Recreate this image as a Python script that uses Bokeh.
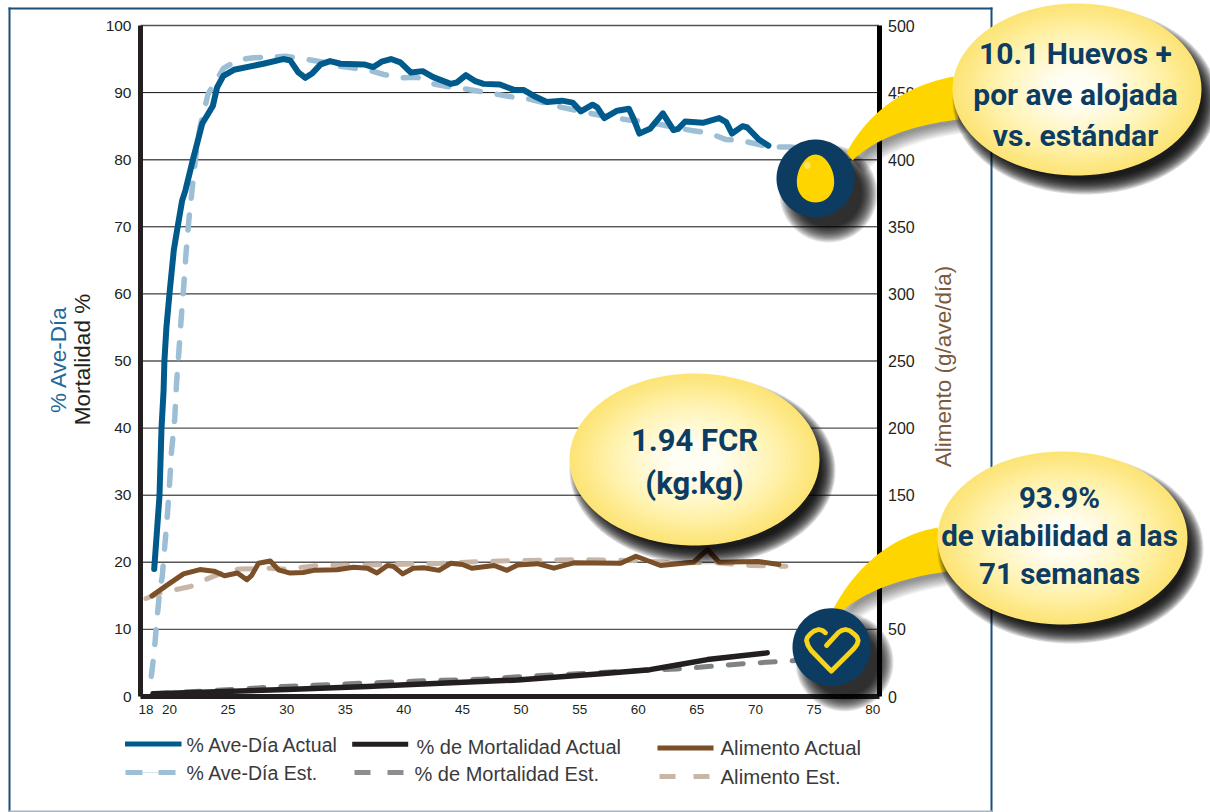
import math
from bokeh.plotting import figure
from bokeh.models import Range1d, LinearAxis, FixedTicker, PolyAnnotation, Label
from bokeh.embed import file_html
from bokeh.resources import INLINE

# ---------- data ----------
egg_act_w = [18.7,19.15,19.32,19.5,19.57,19.74,20,20.37,20.7,21.08,21.36,22,22.8,23.7,24.07,24.6,25.5,28,29.7,30.3,31,31.6,32.2,32.9,33.7,34.6,36.6,37.4,38.1,38.9,39.7,40.6,41.6,42.5,44,44.5,45.3,46.1,46.8,48.2,49.4,50.2,51.1,52.2,53.5,54.4,55.1,56.1,56.5,57.1,58.2,59.2,59.6,60.1,61,62.1,63,63.4,64,65.5,66.9,67.5,68,68.9,69.3,70.3,71.1]
egg_act_v = [19,29.9,39.9,45.6,50,55,60,66.5,70,73.9,75.4,80,85.4,88,90.8,92.5,93.4,94.3,95,94.8,93,92.2,92.9,94.2,94.7,94.3,94.2,93.8,94.6,95,94.5,93,93.2,92.3,91.3,91.5,92.6,91.7,91.3,91.2,90.4,90.4,89.5,88.6,88.8,88.5,87.2,88.2,87.8,86.2,87.3,87.6,86.1,83.9,84.6,86.9,84.4,84.6,85.7,85.5,86.2,85.6,83.9,85,84.8,83,82.1]
egg_est_w = [18.45,18.7,18.95,19.2,19.38,19.57,19.8,20,20.17,20.45,20.6,20.8,21,21.22,21.42,21.65,22.2,22.6,23.3,24.6,25.9,27.2,30,31.6,32.9,34.3,37.1,38.3,39.7,41.1,42.5,44,45.4,48.1,49.4,50.8,53.5,56.5,59.2,60.5,62,64.7,66,67.5,68.7,70.2,71.4,73,75]
egg_est_v = [3,6.6,11.8,16.3,17.8,21.8,26.5,31.4,36.4,41.4,46.6,51.3,56.3,61.2,66.2,70.9,79.9,84.8,89.8,93.6,94.9,95.2,95.4,95,94.6,94,93.3,92.7,92.2,92.3,91.3,90.8,90.5,89.7,89.3,89,87.8,86.7,85.9,85.7,85.2,84.3,84,83,82.9,82.3,81.9,81.9,81.5]
feed_act_w = [18.5,19.8,21.2,22.6,23.8,24.7,25.8,26.6,27,27.6,28.6,29.3,30.3,31.4,32.3,34.3,35.7,36.9,37.7,38.6,39.1,39.9,40.8,41.7,43,44,45,45.8,47.7,48.8,49.7,51.4,52.8,54.5,58.5,59.8,61.9,64.7,65.9,66.9,70.2,72]
feed_act_v = [75,83,91.4,94.6,93.4,90,92,87,90,99.3,101,94.4,92,92.4,94,94.4,96.3,95.6,92,97.6,97,91.4,95.6,95.9,94,99.3,98.4,95.6,97.6,94,98,99,95.6,99.6,99.3,104.5,97.6,100,109.5,100,100.6,98.4]
feed_est_w = [18,19.2,20.2,21.8,22.9,24.6,26,28.3,30,32.6,36.9,42.5,46.8,49.7,55.3,59.6,62.5,66.7,69.6,72.6]
feed_est_v = [73,77,79,82,86.4,92.6,95,95.6,95,97.6,98,99,100.6,101.3,102,101.3,100,99.6,97.6,97]
mort_act_w = [18.6,30,36.9,39.7,48,49.7,56.8,61,63.3,65.9,71]
mort_act_v = [0.4,1.04,1.5,1.7,2.35,2.45,3.4,4,4.7,5.5,6.5]
mort_est_w = [18.6,23.8,29.7,35.4,41.1,46.8,49.4,54.8,60.5,63.3,66.2,69,71.9,75]
mort_est_v = [0.4,0.9,1.5,1.9,2.3,2.6,2.9,3.4,3.9,4.1,4.5,4.9,5.2,5.5]
x_ticks = [18,20,25,30,35,40,45,50,55,60,65,70,75,80]
left_ticks = list(range(0,101,10))
right_ticks = list(range(0,501,50))
grid_dark = [30,60,70,90]

NAVY = "#0d3c63"; YEL = "#ffd500"
X0, X1 = 17.53, 80.54
PL, PR, PT, PB = 140, 878.5, 25, 696
W, H = 1210, 812
KX = (X1-X0)/(PR-PL); KY = 100/(PB-PT)
XMIN, XMAX = X0-PL*KX, X0+(W-PL)*KX
YMIN, YMAX = -(H-PB)*KY, 100+PT*KY

p = figure(width=W, height=H, output_backend="svg", toolbar_location=None,
           x_range=Range1d(XMIN, XMAX), y_range=Range1d(YMIN, YMAX), min_border=0,
           outline_line_color=None, background_fill_color="white", border_fill_color="white")
p.extra_y_ranges = {"feed": Range1d(YMIN*5, YMAX*5)}
p.grid.visible = False

ax = p.xaxis[0]
ax.ticker = FixedTicker(ticks=x_ticks); ax.fixed_location = 0; ax.bounds = (X0, X1)
ay = p.yaxis[0]
ay.ticker = FixedTicker(ticks=left_ticks); ay.fixed_location = X0; ay.bounds = (0, 100)
ar = LinearAxis(y_range_name="feed", ticker=FixedTicker(ticks=right_ticks), fixed_location=X1, bounds=(0, 500))
p.add_layout(ar, "right")
for a, fs, col in ((ax, "13.5px", "#231f20"), (ay, "15.5px", "#231f20"), (ar, "16px", "#000000")):
    a.major_tick_line_color = None
    a.minor_tick_line_color = None
    a.axis_line_color = col
    a.axis_line_width = 5
    a.major_label_text_font = "Liberation Sans"
    a.major_label_text_font_size = fs
    a.major_label_text_color = "#231f20"
ax.major_label_standoff = 2
ay.major_label_standoff = 3
ar.major_label_standoff = 3

# gridlines, from the left ticks
for t in left_ticks:
    dark = t in grid_dark
    p.line([X0, X1], [t, t], line_color="#111111" if dark else "#555555", line_width=1 if dark else 1.4)

# ---------- series ----------
p.line(egg_est_w, egg_est_v, line_color="#9dbfd6", line_width=5.5, line_dash="15 17", line_cap="round", line_join="round")
p.line(mort_est_w, mort_est_v, line_color="#808285", line_width=5, line_dash="15 17", line_cap="round", line_join="round")
p.line(feed_est_w, feed_est_v, y_range_name="feed", line_color="#c8b7a6", line_width=5, line_dash="15 17", line_cap="round", line_join="round")
p.line(egg_act_w, egg_act_v, line_color="#005a8c", line_width=6, line_cap="round", line_join="round")
p.line(mort_act_w, mort_act_v, line_color="#231f20", line_width=5.5, line_cap="round", line_join="round")
p.line(feed_act_w, feed_act_v, y_range_name="feed", line_color="#7b4f28", line_width=5, line_cap="round", line_join="round")

# ---------- decoration helpers, page pixel positions ----------
def poly(xs, ys, fill, alpha=1.0, level="annotation", line=None, lw=1):
    p.add_layout(PolyAnnotation(
        xs=list(xs), ys=list(ys), xs_units="canvas", ys_units="canvas",
        fill_color=fill, fill_alpha=alpha, line_color=line, line_width=lw, line_alpha=1.0,
        level=level, editable=False))

def ell(cx, cy, rx, ry, n=90):
    return ([cx+rx*math.cos(2*math.pi*i/n) for i in range(n)],
            [cy+ry*math.sin(2*math.pi*i/n) for i in range(n)])

def rect(x0, y0, x1, y1, col, alpha=1.0, level="annotation"):
    poly([x0, x1, x1, x0], [y0, y0, y1, y1], col, alpha, level=level)

def bez(a, c, b, n=24):
    pts = []
    for i in range(n+1):
        t = i/n
        pts.append(((1-t)**2*a[0]+2*t*(1-t)*c[0]+t*t*b[0], (1-t)**2*a[1]+2*t*(1-t)*c[1]+t*t*b[1]))
    return pts

def text(s, x, y, size, col, font="Liberation Sans", style="normal", align="left", angle=0):
    p.add_layout(Label(x=x, y=y, x_units="canvas", y_units="canvas", text=s,
                       text_font=font, text_font_size=size, text_color=col, text_font_style=style,
                       text_align=align, text_baseline="middle", angle=angle, angle_units="rad"))

def lerp(a, b, t):
    t = max(0, min(1, t))
    return "#%02x%02x%02x" % tuple(int(round(a[i]+(b[i]-a[i])*t)) for i in range(3))

def bubble(cx, cy, rx, ry):
    for i in range(14):
        d = 8 - i*1.2
        xs, ys = ell(cx+8, cy+11, rx+d, ry+d)
        poly(xs, ys, "#000000", 0.14)
    edge = (253, 228, 118); mid = (255, 243, 178); ctr = (255, 254, 244)
    for i in range(26):
        t = 1 - i/26
        xs, ys = ell(cx, cy, rx*t, ry*t)
        c = lerp(edge, mid, (1-t)/0.35) if t > 0.65 else lerp(mid, ctr, (0.65-t)/0.45)
        poly(xs, ys, c)

def connector(up_a, up_c, up_b, lo_a, lo_c, lo_b, circ):
    upper = bez(up_a, up_c, up_b); lower = bez(lo_b, lo_c, lo_a)
    xs = [q[0] for q in upper+lower]; ys = [q[1] for q in upper+lower]
    for i in range(10):
        poly([x+2+i for x in xs], [y+3+i*1.1 for y in ys], "#000000", 0.05)
    for i in range(14):
        d = 10 - i*1.2
        cxs, cys = ell(circ[0]+13, circ[1]+15, 39+d, 39+d)
        poly(cxs, cys, "#000000", 0.11)
    poly(xs, ys, YEL)
    cxs, cys = ell(circ[0], circ[1], 39, 39)
    poly(cxs, cys, NAVY)

# page border and axis titles
rect(8, 7, 992, 9, "#1c4e78", level="underlay")
rect(8, 7, 10, 812, "#1c4e78", level="underlay")
rect(990, 7, 992, 812, "#1c4e78", level="underlay")
rect(8, 810, 992, 812, "#a8b4c0", level="underlay")
text("% Ave-Día", 58, 359, "22.5px", "#1f6a9c", angle=math.pi/2, align="center")
text("Mortalidad %", 82, 359, "22.5px", "#231f20", angle=math.pi/2, align="center")
text("Alimento (g/ave/día)", 943, 366, "22.5px", "#7b5a3c", angle=math.pi/2, align="center")

# legend
rect(124.5, 741, 181, 746, "#005a8c")
rect(125, 769.5, 142, 774.5, "#9dbfd6"); rect(142, 771.6, 158, 772.4, "#d5e3ec"); rect(158, 769.5, 175, 774.5, "#9dbfd6")
rect(351.7, 741.3, 407.7, 746.3, "#231f20")
rect(354, 769.5, 370, 774.5, "#8c8e90"); rect(387, 769.5, 403, 774.5, "#8c8e90")
rect(657, 745, 713, 750, "#7b4f28")
rect(659, 773.5, 675, 778.5, "#c8b7a6"); rect(693, 773.5, 709, 778.5, "#c8b7a6")
LEG = "#3a3a3c"
text("% Ave-Día Actual", 186, 744, "19.5px", LEG)
text("% Ave-Día Est.", 186, 772, "19.5px", LEG)
text("% de Mortalidad Actual", 416, 746, "20px", LEG)
text("% de Mortalidad Est.", 414, 773, "20px", LEG)
text("Alimento Actual", 720, 747, "20.4px", LEG)
text("Alimento Est.", 720, 776, "20.4px", LEG)

# callouts
connector((953,76),(880,90),(846,152),(958,119),(885,128),(852,160),(815,178))
connector((937,527),(870,540),(833,608),(947,571),(880,580),(843,609),(831,646.7))
bubble(1076.5, 89, 124.5, 86)
bubble(1062, 537.5, 125, 86.5)
bubble(694, 459, 125, 86)

# egg icon
eg = [(815+18.5*math.cos(2*math.pi*i/60)*(1+0.14*math.sin(2*math.pi*i/60)),
       178+24*math.sin(2*math.pi*i/60)) for i in range(60)]
poly([q[0] for q in eg], [q[1] for q in eg], YEL)
hx, hy = ell(807, 165, 3, 3.5, 24)
poly(hx, hy, "#ffe566")

# heart icon, a stroked path
def dx(px): return XMIN+px*KX
def dy(py): return (PB-py)*KY
hp = [(825,632.3),(822,630),(818.3,629),(813.5,630.5),(810,633.3),(806.8,637),(806,640),(807.5,645),(810.7,650),(830.7,670.7),(853.3,648.3),(856.5,644),(857.7,640),(856.5,636.5),(853.3,633.3),(849.5,630.3),(845,629),(841.5,629.8),(838.3,631.7),(826,645)]
p.line([dx(q[0]) for q in hp], [dy(q[1]) for q in hp], line_color="#f7d417", line_width=4.8, line_join="round", line_cap="round", level="overlay")

F = "Roboto"
text("10.1 Huevos +", 1075, 53, "30px", NAVY, F, "bold", "center")
text("por ave alojada", 1075, 94, "30px", NAVY, F, "bold", "center")
text("vs. estándar", 1075, 135, "30px", NAVY, F, "bold", "center")
text("93.9%", 1059, 497, "29.5px", NAVY, F, "bold", "center")
text("de viabilidad a las", 1059, 535, "29.5px", NAVY, F, "bold", "center")
text("71 semanas", 1059, 573, "29.5px", NAVY, F, "bold", "center")
text("1.94 FCR", 694, 440, "31px", NAVY, F, "bold", "center")
text("(kg:kg)", 694, 483, "31px", NAVY, F, "bold", "center")

open("out.html", "w").write(file_html(p, INLINE))
